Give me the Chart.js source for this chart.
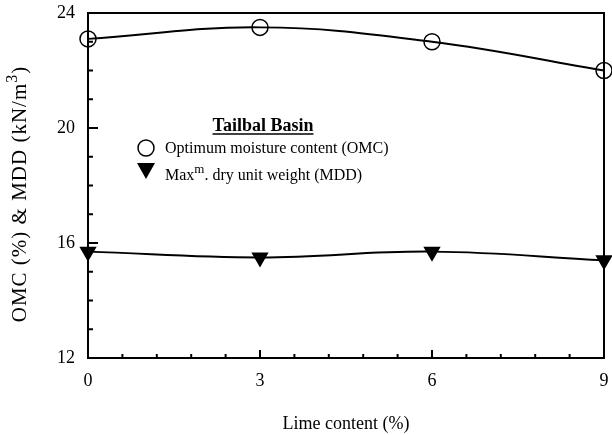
<!DOCTYPE html>
<html>
<head>
<meta charset="utf-8">
<script src="https://cdn.jsdelivr.net/npm/chart.js@4"></script>
<style>
  body { margin: 0; background: #fff; }
  #wrap { width: 612px; height: 435px; }
</style>
</head>
<body>
<div id="wrap"><canvas id="graficoCal"></canvas></div>
<script>
const ctx = document.getElementById('graficoCal');

// lime content (%)
const cal = [0, 3, 6, 9];
// optimum moisture content (%)
const omc = [23.1, 23.5, 23.0, 22.0];
// max dry unit weight (kN/m3)
const mdd = [15.7, 15.5, 15.7, 15.4];

const xTicks = [0, 3, 6, 9];
const yTicks = [12, 16, 20, 24];

const fonte = "'Liberation Serif', 'Times New Roman', serif";

// ticks para dentro, moldura, titulo do eixo y e legenda
const extras = {
    id: 'extras',
    afterDraw(chart) {
        const c = chart.ctx;
        const x = chart.scales.x;
        const y = chart.scales.y;
        const a = chart.chartArea;
        c.save();
        c.strokeStyle = '#000';
        c.fillStyle = '#000';

        // moldura superior e direita
        c.lineWidth = 2;
        c.beginPath();
        c.moveTo(a.left, a.top);
        c.lineTo(a.right, a.top);
        c.lineTo(a.right, a.bottom);
        c.stroke();

        // ticks do eixo y (maiores a cada 4, menores a cada 1)
        for (let v = 12; v <= 24; v++) {
            const py = y.getPixelForValue(v);
            const len = v % 4 === 0 ? 10 : 5;
            c.beginPath();
            c.moveTo(a.left, py);
            c.lineTo(a.left + len, py);
            c.stroke();
        }
        // ticks do eixo x (maiores a cada 3, menores a cada 0.6)
        for (let i = 0; i <= 15; i++) {
            const v = i * 0.6;
            const px = x.getPixelForValue(v);
            const len = i % 5 === 0 ? 8 : 4;
            c.beginPath();
            c.moveTo(px, a.bottom);
            c.lineTo(px, a.bottom - len);
            c.stroke();
        }

        // titulo do eixo y com o expoente
        c.save();
        c.translate(20, 194);
        c.rotate(-Math.PI / 2);
        c.textBaseline = 'middle';
        c.textAlign = 'left';
        c.letterSpacing = '1px';
        const parte1 = 'OMC (%) & MDD (kN/m';
        c.font = '21px ' + fonte;
        const w1 = c.measureText(parte1).width;
        const w3 = c.measureText(')').width;
        c.font = '16px ' + fonte;
        const w2 = c.measureText('3').width;
        let tx = -(w1 + w2 + w3) / 2;
        c.font = '21px ' + fonte;
        c.fillText(parte1, tx, 0);
        tx += w1;
        c.font = '16px ' + fonte;
        c.fillText('3', tx, -7);
        tx += w2;
        c.font = '21px ' + fonte;
        c.fillText(')', tx, 0);
        c.restore();

        // legenda
        c.textBaseline = 'alphabetic';
        c.textAlign = 'center';
        c.font = 'bold 18px ' + fonte;
        c.fillText('Tailbal Basin', 263, 131);
        const w = c.measureText('Tailbal Basin').width;
        c.lineWidth = 1.5;
        c.beginPath();
        c.moveTo(263 - w / 2, 134);
        c.lineTo(263 + w / 2, 134);
        c.stroke();

        c.lineWidth = 1.5;
        c.beginPath();
        c.arc(146, 148, 8, 0, Math.PI * 2);
        c.stroke();

        c.beginPath();
        c.moveTo(137, 163);
        c.lineTo(155, 163);
        c.lineTo(146, 179);
        c.closePath();
        c.fill();

        c.textAlign = 'left';
        c.font = '16px ' + fonte;
        c.fillText('Optimum moisture content (OMC)', 165, 153);
        c.fillText('Max', 165, 180);
        let px = 165 + c.measureText('Max').width;
        c.font = '13px ' + fonte;
        c.fillText('m', px, 173);
        px += c.measureText('m').width;
        c.font = '16px ' + fonte;
        c.fillText('. dry unit weight (MDD)', px, 180);

        c.restore();
    }
};

new Chart(ctx, {
    type: 'line',
    data: {
        datasets: [{
            label: 'Optimum moisture content (OMC)',
            data: cal.map((v, i) => ({x: v, y: omc[i]})),
            borderColor: '#000',
            borderWidth: 2,
            backgroundColor: 'rgba(0,0,0,0)',
            pointStyle: 'circle',
            pointRadius: 8,
            pointBorderWidth: 1.5,
            pointBorderColor: '#000',
            pointBackgroundColor: 'rgba(0,0,0,0)',
            tension: 0.4,
            clip: false
        }, {
            label: 'Max. dry unit weight (MDD)',
            data: cal.map((v, i) => ({x: v, y: mdd[i]})),
            borderColor: '#000',
            borderWidth: 2,
            backgroundColor: '#000',
            pointStyle: 'triangle',
            pointRotation: 180,
            pointRadius: 10,
            pointBorderWidth: 0,
            pointBackgroundColor: '#000',
            tension: 0.4,
            clip: false
        }]
    },
    options: {
        responsive: true,
        maintainAspectRatio: false,
        animation: false,
        layout: {
            autoPadding: false,
            padding: {top: 13, right: 8, left: 0, bottom: 0}
        },
        plugins: {
            legend: {display: false},
            tooltip: {enabled: false}
        },
        scales: {
            x: {
                type: 'linear',
                min: 0,
                max: 9,
                afterFit: s => {
                    s.height = 77;
                    s.paddingLeft = 0;
                    s.paddingRight = 0;
                },
                afterBuildTicks: s => { s.ticks = xTicks.map(v => ({value: v})); },
                border: {display: true, color: '#000', width: 2},
                grid: {display: false, drawTicks: false},
                ticks: {
                    color: '#000',
                    padding: 12,
                    font: {family: fonte, size: 18}
                },
                title: {
                    display: true,
                    text: 'Lime content (%)',
                    color: '#000',
                    padding: {top: 0, bottom: 0},
                    font: {family: fonte, size: 18}
                }
            },
            y: {
                min: 12,
                max: 24,
                afterFit: s => {
                    s.width = 88;
                    s.paddingTop = 0;
                    s.paddingBottom = 0;
                },
                afterBuildTicks: s => { s.ticks = yTicks.map(v => ({value: v})); },
                border: {display: true, color: '#000', width: 2},
                grid: {display: false, drawTicks: false},
                ticks: {
                    color: '#000',
                    padding: 13,
                    font: {family: fonte, size: 18}
                },
                title: {display: false}
            }
        }
    },
    plugins: [extras]
});
</script>
</body>
</html>
